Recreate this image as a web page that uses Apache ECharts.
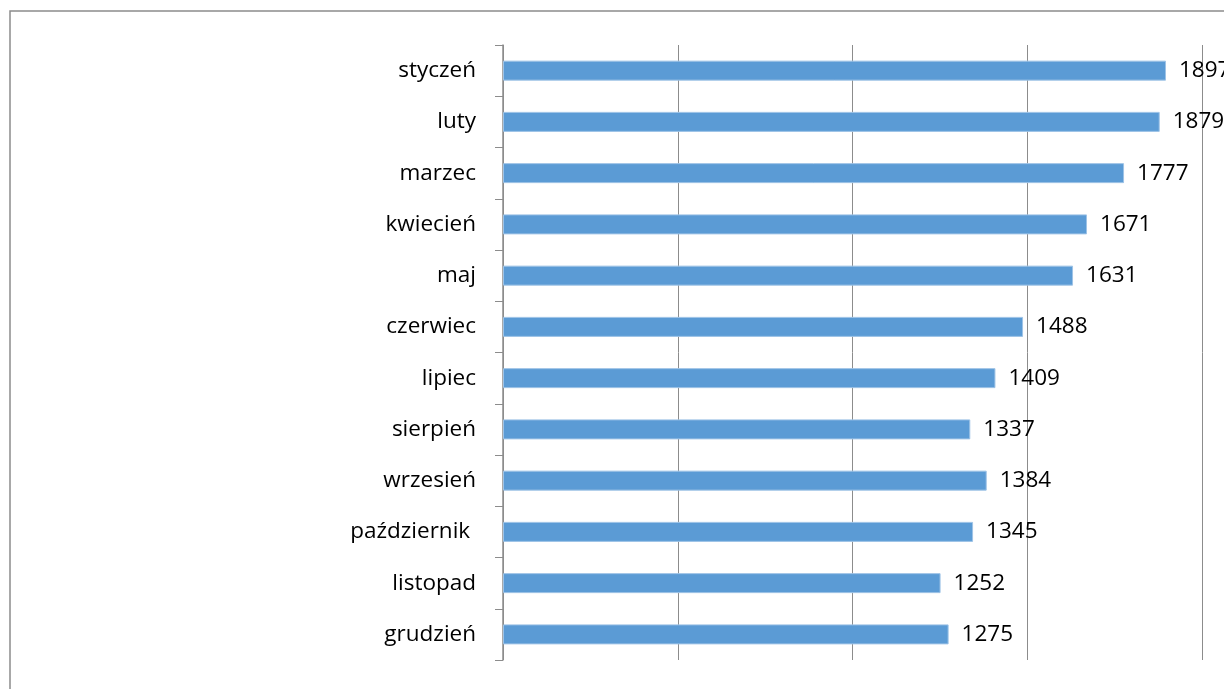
<!DOCTYPE html>
<html><head><meta charset="utf-8">
<script src="https://cdn.jsdelivr.net/npm/echarts@6/dist/echarts.min.js"></script>
<style>html,body{margin:0;padding:0;background:#fff;}#c{width:1224px;height:689px;}</style>
</head><body><div id="c"></div>
<script>
const categories = ['styczeń','luty','marzec','kwiecień','maj','czerwiec','lipiec','sierpień','wrzesień','październik ','listopad','grudzień'];
const values = [1897,1879,1777,1671,1631,1488,1409,1337,1384,1345,1252,1275];
const xMin = 0, xMax = 2000, xStep = 500;

const chart = echarts.init(document.getElementById('c'));
chart.setOption({
  animation: false,
  backgroundColor: '#fff',
  graphic: [{type:'rect', shape:{x:10, y:11, width:1400, height:900}, style:{fill:'none', stroke:'#8c8c8c', lineWidth:1.5}, silent:true}],
  grid: {left: 503, right: 22, top: 45, bottom: 29, containLabel: false},
  xAxis: {
    type: 'value', min: xMin, max: xMax, interval: xStep,
    axisLabel: {show: false}, axisTick: {show: false}, axisLine: {show: false},
    splitLine: {show: true, lineStyle: {color: '#8c8c8c', width: 1}}
  },
  yAxis: {
    type: 'category', data: categories, inverse: true,
    axisLine: {show: true, lineStyle: {color: '#8c8c8c', width: 1.5}},
    axisTick: {show: true, length: 8, lineStyle: {color: '#8c8c8c'}},
    axisLabel: {color: '#000', fontSize: 22.5, fontFamily: 'Open Sans', margin: 27}
  },
  series: [{
    type: 'bar', data: values, barWidth: 20,
    itemStyle: {color: '#5b9bd5', borderColor: '#9ec3e6', borderWidth: 1},
    label: {show: true, position: 'right', distance: 13, color: '#000', fontSize: 22.5, fontFamily: 'Open Sans'}
  }]
});
</script></body></html>
